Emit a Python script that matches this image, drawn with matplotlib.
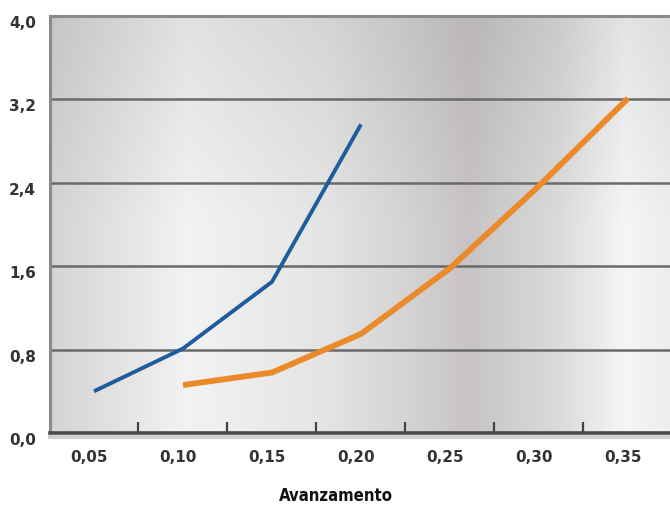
import numpy as np
import matplotlib
matplotlib.use("Agg")
import matplotlib.pyplot as plt
from matplotlib.colors import LinearSegmentedColormap
from matplotlib.transforms import ScaledTranslation

# data
x_blue = [0.05, 0.10, 0.15, 0.20]
y_blue = [0.40, 0.81, 1.45, 2.96]
x_orange = [0.10, 0.15, 0.20, 0.25, 0.30, 0.35]
y_orange = [0.46, 0.58, 0.95, 1.58, 2.37, 3.21]

x_ticks = [0.05, 0.10, 0.15, 0.20, 0.25, 0.30, 0.35]
x_labels = ["0,05", "0,10", "0,15", "0,20", "0,25", "0,30", "0,35"]
x_minor = [0.075, 0.125, 0.175, 0.225, 0.275, 0.325]
y_ticks = [0.0, 0.8, 1.6, 2.4, 3.2, 4.0]
y_labels = ["0,0", "0,8", "1,6", "2,4", "3,2", "4,0"]

X_MIN, X_MAX = 0.0253, 0.3736

fig = plt.figure(figsize=(6.7, 5.08), dpi=100)
ax = fig.add_axes([50 / 670, (508 - 433) / 508, 620 / 670, 417 / 508])

# metallic background: horizontal profile, slightly darker at the top
stops = [(0.00, "#d2d2d2"), (0.22, "#f0f0f0"), (0.45, "#e2e2e2"),
         (0.68, "#c6c2c3"), (0.82, "#d8d8d8"), (0.93, "#f3f3f3"),
         (1.00, "#ebebeb")]
cmap = LinearSegmentedColormap.from_list("metal", stops)
h = np.linspace(0, 1, 400)
v = np.linspace(0, 1, 200)[:, None]  # 0 at top row
shade = 0.93 + 0.07 * np.clip(v * 2.0, 0, 1)
rgb = np.clip(cmap(h)[None, :, :3] * shade[:, :, None] / 0.99, 0, 1)
ax.imshow(rgb, extent=[X_MIN, X_MAX, 0, 4], aspect="auto", zorder=0,
          interpolation="bicubic")

for yv in y_ticks[1:-1]:
    ax.axhline(yv, color="#6a6a6a", linewidth=1.8, zorder=1)

ax.plot(x_blue, y_blue, color="#1e5c9c", linewidth=2.8, zorder=3,
        solid_capstyle="butt")
ax.plot(x_orange, y_orange, color="#ea8a2a", linewidth=4.2, zorder=3,
        solid_capstyle="butt")

ax.set_xlim(X_MIN, X_MAX)
ax.set_ylim(0, 4)

ax.spines["right"].set_visible(False)
ax.spines["left"].set_color("#8a8a8a")
ax.spines["left"].set_linewidth(2.2)
ax.spines["top"].set_color("#8a8a8a")
ax.spines["top"].set_linewidth(2.2)
ax.spines["bottom"].set_color("#4a4a4a")
ax.spines["bottom"].set_linewidth(2.6)

# soft shadow under the bottom axis line
fig.add_artist(plt.Line2D([50 / 670, 1], [1 - 437 / 508] * 2,
                          color="#b0b0b0", linewidth=3, alpha=0.6))

ax.set_xticks(x_ticks)
ax.set_xticklabels(x_labels)
ax.set_xticks(x_minor, minor=True)
ax.tick_params(axis="x", which="major", length=0, pad=12,
               labelsize=11, labelcolor="#333333")
ax.tick_params(axis="x", which="minor", direction="in", length=8,
               width=1.6, color="#444444")
for lbl in ax.get_xticklabels():
    lbl.set_fontweight("bold")
    lbl.set_transform(lbl.get_transform()
                      + ScaledTranslation(-5 / 100, 0, fig.dpi_scale_trans))

ax.set_yticks(y_ticks)
ax.set_yticklabels(y_labels)
ax.tick_params(axis="y", length=0, pad=10, labelsize=11,
               labelcolor="#333333")
for lbl in ax.get_yticklabels():
    lbl.set_fontweight("bold")
    lbl.set_transform(lbl.get_transform()
                      + ScaledTranslation(0, -6 / 100, fig.dpi_scale_trans))

fig.text(336 / 670, 1 - 496 / 508, "Avanzamento", ha="center", va="center",
         fontsize=12, fontweight="bold", color="#111111",
         fontstretch="condensed",
         family=["Liberation Sans Narrow", "DejaVu Sans"])

fig.savefig("out.png", dpi=100)
